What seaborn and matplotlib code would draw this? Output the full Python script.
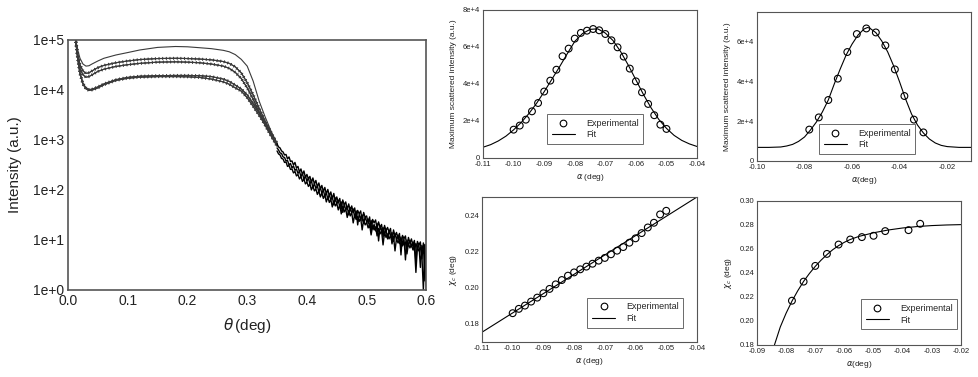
import numpy as np
import matplotlib
matplotlib.use("Agg")
from matplotlib import pyplot as plt
from matplotlib import patheffects
from matplotlib.lines import Line2D
from matplotlib.ticker import FuncFormatter
import seaborn as sns

# ---------------- left panel: reflectivity curves ----------------
theta = [0.010, 0.013, 0.016, 0.020, 0.025, 0.030, 0.035, 0.040, 0.050, 0.060,
         0.080, 0.100, 0.120, 0.150, 0.180, 0.200, 0.220, 0.240, 0.260, 0.270,
         0.280, 0.290, 0.300, 0.310, 0.320, 0.330, 0.340, 0.350]
curve_a = [1.6e5, 1.0e5, 6.5e4, 4.3e4, 3.3e4, 3.0e4, 3.05e4, 3.3e4, 3.8e4, 4.3e4,
           5.0e4, 5.6e4, 6.3e4, 7.1e4, 7.4e4, 7.3e4, 7.0e4, 6.7e4, 6.2e4, 5.8e4,
           5.1e4, 4.1e4, 3.0e4, 1.5e4, 6.0e3, 2.9e3, 1.5e3, 8.5e2]
curve_b = [1.6e5, 1.0e5, 5.5e4, 3.2e4, 2.4e4, 2.15e4, 2.2e4, 2.4e4, 2.8e4, 3.1e4,
           3.5e4, 3.8e4, 4.05e4, 4.25e4, 4.3e4, 4.25e4, 4.15e4, 4.0e4, 3.7e4, 3.4e4,
           2.9e4, 2.2e4, 1.4e4, 8.0e3, 4.3e3, 2.4e3, 1.4e3, 8.5e2]
curve_c = [1.6e5, 9.5e4, 5.0e4, 2.7e4, 2.0e4, 1.8e4, 1.85e4, 2.0e4, 2.35e4, 2.6e4,
           2.95e4, 3.2e4, 3.4e4, 3.6e4, 3.65e4, 3.6e4, 3.5e4, 3.3e4, 3.0e4, 2.7e4,
           2.25e4, 1.7e4, 1.1e4, 6.5e3, 3.6e3, 2.0e3, 1.2e3, 7.5e2]
curve_d = [1.6e5, 9.0e4, 4.5e4, 2.2e4, 1.35e4, 1.1e4, 1.02e4, 1.03e4, 1.15e4, 1.32e4,
           1.6e4, 1.78e4, 1.88e4, 1.93e4, 1.95e4, 1.95e4, 1.93e4, 1.85e4, 1.65e4, 1.48e4,
           1.25e4, 1.05e4, 8.0e3, 5.3e3, 3.5e3, 2.2e3, 1.35e3, 8.5e2]
curve_e = [1.6e5, 9.0e4, 4.4e4, 2.1e4, 1.3e4, 1.05e4, 0.98e4, 1.0e4, 1.1e4, 1.27e4,
           1.55e4, 1.72e4, 1.8e4, 1.85e4, 1.85e4, 1.83e4, 1.78e4, 1.65e4, 1.45e4, 1.3e4,
           1.1e4, 9.5e3, 7.0e3, 4.7e3, 3.1e3, 2.0e3, 1.25e3, 7.8e2]

# noisy high-angle tails (log10 of intensity), sampled every 0.0025 deg from 0.35
tail_theta = np.round(np.arange(0.350, 0.6001, 0.0025), 4)
tail_1 = [2.92, 2.86, 2.84, 2.78, 2.76, 2.70, 2.71, 2.62, 2.66, 2.57,
          2.58, 2.50, 2.55, 2.44, 2.47, 2.36, 2.42, 2.31, 2.38, 2.25,
          2.31, 2.22, 2.27, 2.15, 2.24, 2.12, 2.19, 2.06, 2.14, 2.02,
          2.09, 1.97, 2.05, 1.92, 2.01, 1.88, 1.96, 1.82, 1.93, 1.78,
          1.86, 1.75, 1.83, 1.62, 1.80, 1.70, 1.76, 1.61, 1.72, 1.58,
          1.68, 1.55, 1.64, 1.42, 1.59, 1.52, 1.58, 1.38, 1.55, 1.45,
          1.48, 1.33, 1.46, 1.14, 1.41, 1.34, 1.40, 1.22, 1.36, 1.25,
          1.31, 1.06, 1.29, 1.18, 1.25, 1.16, 1.23, 0.92, 1.20, 1.08,
          1.15, 1.02, 1.13, 0.70, 1.09, 1.03, 1.08, 0.82, 1.05, 0.94,
          1.02, 0.88, 0.99, 0.55, 0.97, 0.90, 0.96, 0.62, 0.94, 0.18,
          0.90]
tail_2 = [2.84, 2.80, 2.74, 2.73, 2.66, 2.65, 2.58, 2.59, 2.50, 2.53,
          2.44, 2.48, 2.39, 2.42, 2.33, 2.37, 2.27, 2.33, 2.21, 2.28,
          2.17, 2.24, 2.12, 2.19, 2.04, 2.13, 2.03, 2.08, 1.96, 2.05,
          1.93, 2.00, 1.87, 1.95, 1.81, 1.91, 1.80, 1.87, 1.70, 1.84,
          1.72, 1.79, 1.66, 1.76, 1.55, 1.72, 1.60, 1.67, 1.50, 1.65,
          1.54, 1.62, 1.45, 1.58, 1.30, 1.51, 1.43, 1.50, 1.33, 1.46,
          1.36, 1.42, 1.25, 1.39, 1.22, 1.31, 1.18, 1.33, 0.98, 1.27,
          1.19, 1.25, 1.10, 1.22, 1.02, 1.18, 1.08, 1.15, 0.97, 1.12,
          1.01, 1.10, 0.93, 1.06, 0.88, 1.03, 0.60, 1.00, 0.90, 0.98,
          0.86, 0.96, 0.78, 0.93, 0.84, 0.92, 0.45, 0.89, 0.80, 0.91,
          0.02]
tail_3 = [2.78, 2.72, 2.70, 2.63, 2.62, 2.55, 2.56, 2.47, 2.49, 2.41,
          2.42, 2.34, 2.37, 2.28, 2.31, 2.22, 2.27, 2.17, 2.22, 2.12,
          2.16, 2.07, 2.12, 2.00, 2.08, 1.98, 2.02, 1.91, 1.98, 1.86,
          1.94, 1.83, 1.90, 1.76, 1.86, 1.75, 1.81, 1.66, 1.78, 1.68,
          1.73, 1.60, 1.70, 1.52, 1.67, 1.56, 1.62, 1.45, 1.59, 1.48,
          1.55, 1.34, 1.50, 1.41, 1.47, 1.37, 1.44, 1.20, 1.40, 1.30,
          1.35, 1.24, 1.31, 1.10, 1.28, 1.20, 1.26, 1.08, 1.23, 1.12,
          1.18, 0.90, 1.15, 1.05, 1.12, 1.02, 1.09, 0.95, 1.07, 0.78,
          1.03, 0.94, 1.00, 0.86, 0.97, 0.90, 0.96, 0.72, 0.93, 0.84,
          0.91, 0.80, 0.88, 0.35, 0.86, 0.78, 0.85, 0.70, 0.00, 0.82,
          0.75]

# ---------------- top middle: peak intensity vs alpha ----------------
alpha_1 = [-0.100, -0.098, -0.096, -0.094, -0.092, -0.090, -0.088, -0.086, -0.084,
           -0.082, -0.080, -0.078, -0.076, -0.074, -0.072, -0.070, -0.068, -0.066,
           -0.064, -0.062, -0.060, -0.058, -0.056, -0.054, -0.052, -0.050]
peak_1 = [1.53e4, 1.75e4, 2.07e4, 2.52e4, 2.97e4, 3.59e4, 4.18e4, 4.77e4, 5.50e4,
          5.91e4, 6.45e4, 6.76e4, 6.88e4, 6.97e4, 6.90e4, 6.70e4, 6.36e4, 5.98e4,
          5.48e4, 4.83e4, 4.14e4, 3.55e4, 2.92e4, 2.31e4, 1.80e4, 1.57e4]
fit_1_x = [-0.1100, -0.1075, -0.1050, -0.1025, -0.1000, -0.0975, -0.0950, -0.0925,
           -0.0900, -0.0875, -0.0850, -0.0825, -0.0800, -0.0775, -0.0750, -0.0725,
           -0.0700, -0.0675, -0.0650, -0.0625, -0.0600, -0.0575, -0.0550, -0.0525,
           -0.0500, -0.0475, -0.0450, -0.0425, -0.0400]
fit_1_y = [0.58e4, 0.72e4, 0.92e4, 1.18e4, 1.52e4, 1.92e4, 2.40e4, 2.95e4,
           3.58e4, 4.25e4, 4.92e4, 5.62e4, 6.30e4, 6.72e4, 6.95e4, 6.98e4,
           6.75e4, 6.35e4, 5.75e4, 5.02e4, 4.22e4, 3.42e4, 2.70e4, 2.08e4,
           1.60e4, 1.22e4, 0.95e4, 0.76e4, 0.62e4]

# ---------------- top right: peak intensity vs alpha ----------------
alpha_2 = [-0.078, -0.074, -0.070, -0.066, -0.062, -0.058, -0.054, -0.050,
           -0.046, -0.042, -0.038, -0.034, -0.030]
peak_2 = [1.57e4, 2.18e4, 3.05e4, 4.12e4, 5.45e4, 6.35e4, 6.63e4, 6.43e4,
          5.78e4, 4.58e4, 3.25e4, 2.07e4, 1.43e4]
fit_2_x = [-0.1000, -0.0950, -0.0900, -0.0875, -0.0850, -0.0825, -0.0800, -0.0775,
           -0.0750, -0.0725, -0.0700, -0.0675, -0.0650, -0.0625, -0.0600, -0.0575,
           -0.0550, -0.0535, -0.0525, -0.0500, -0.0475, -0.0450, -0.0425, -0.0400,
           -0.0375, -0.0350, -0.0325, -0.0300, -0.0275, -0.0250, -0.0225, -0.0200,
           -0.0150, -0.0100]
fit_2_y = [0.68e4, 0.68e4, 0.70e4, 0.75e4, 0.83e4, 0.98e4, 1.20e4, 1.55e4,
           1.95e4, 2.45e4, 3.05e4, 3.85e4, 4.60e4, 5.30e4, 5.85e4, 6.30e4,
           6.60e4, 6.68e4, 6.64e4, 6.42e4, 6.00e4, 5.45e4, 4.75e4, 3.95e4,
           3.10e4, 2.35e4, 1.80e4, 1.40e4, 1.10e4, 0.90e4, 0.78e4, 0.72e4,
           0.68e4, 0.68e4]

# ---------------- bottom middle: chi_c vs alpha ----------------
chi_1 = [0.1859, 0.1883, 0.1901, 0.1923, 0.1945, 0.1969, 0.1993, 0.2018, 0.2042,
         0.2066, 0.2084, 0.2101, 0.2116, 0.2132, 0.2149, 0.2164, 0.2184, 0.2204,
         0.2224, 0.2248, 0.2272, 0.2301, 0.2332, 0.2358, 0.2404, 0.2424]
fit_3_x = [-0.110, -0.075, -0.040]
fit_3_y = [0.1754, 0.2127, 0.2500]

# ---------------- bottom right: chi_c vs alpha ----------------
alpha_4 = [-0.078, -0.074, -0.070, -0.066, -0.062, -0.058, -0.054, -0.050,
           -0.046, -0.038, -0.034]
chi_2 = [0.2169, 0.2328, 0.2459, 0.2559, 0.2637, 0.2679, 0.2699, 0.2710,
         0.2749, 0.2757, 0.2810]
fit_4_x = [-0.0840, -0.0820, -0.0800, -0.0780, -0.0760, -0.0740, -0.0720, -0.0700,
           -0.0680, -0.0660, -0.0640, -0.0620, -0.0600, -0.0580, -0.0550, -0.0500,
           -0.0450, -0.0400, -0.0350, -0.0300, -0.0250, -0.0200]
fit_4_y = [0.1800, 0.1950, 0.2065, 0.2165, 0.2252, 0.2330, 0.2396, 0.2455,
           0.2507, 0.2553, 0.2594, 0.2628, 0.2656, 0.2679, 0.2705, 0.2735,
           0.2758, 0.2775, 0.2787, 0.2795, 0.2800, 0.2803]

sns.set_style("white")
plt.rcParams["font.family"] = ["Liberation Sans", "DejaVu Sans"]
plt.rcParams["mathtext.fontset"] = "dejavusans"

fig = plt.figure(figsize=(9.79, 3.77), dpi=100)

TXT = "#222222"
SPINE = "#555555"


def style_axes(ax, lw, size, pad):
    for s in ax.spines.values():
        s.set_color(SPINE)
        s.set_linewidth(lw)
    ax.tick_params(direction="in", length=3, width=lw * 0.8, colors=SPINE,
                   labelcolor=TXT, labelsize=size, pad=pad)


def add_legend(ax, anchor):
    handles = [Line2D([], [], marker="o", ls="none", mfc="none", mec="k", mew=0.8, ms=4.8),
               Line2D([], [], color="k", lw=0.8)]
    leg = ax.legend(handles, ["Experimental", "Fit"], loc="lower left", bbox_to_anchor=anchor,
                    fontsize=6.5, frameon=True, fancybox=False, edgecolor="#444444",
                    handlelength=2.6, handletextpad=1.2, borderpad=0.5, labelspacing=0.3,
                    borderaxespad=0)
    leg.get_frame().set_linewidth(0.7)


# ---- left: reflectivity ----
ax1 = fig.add_axes([0.0695, 0.231, 0.366, 0.663])
for i, curve in enumerate([curve_a, curve_b, curve_c, curve_d, curve_e]):
    effects = []
    if i > 0:
        effects = [patheffects.withTickedStroke(spacing=2.6, length=0.3, angle=90),
                   patheffects.withTickedStroke(spacing=2.6, length=0.3, angle=-90)]
    sns.lineplot(x=theta, y=curve, ax=ax1, color="#3a3a3a", lw=0.8, sort=False,
                 path_effects=effects)
for tail in [tail_1, tail_2, tail_3]:
    sns.lineplot(x=tail_theta, y=10 ** np.array(tail), ax=ax1, color="black", lw=1.0,
                 sort=False)
ax1.set_yscale("log")
ax1.set_xlim(0, 0.6)
ax1.set_ylim(1, 1e5)
ax1.set_xticks([0.0, 0.1, 0.2, 0.3, 0.4, 0.5, 0.6])
ax1.set_yticks([1, 10, 100, 1e3, 1e4, 1e5])
ax1.minorticks_off()
ax1.yaxis.set_major_formatter(FuncFormatter(lambda v, p: f"1e+{int(round(np.log10(v)))}"))
ax1.xaxis.set_major_formatter(FuncFormatter(lambda v, p: f"{v:.1f}"))
style_axes(ax1, 1.2, 10, 3)
ax1.tick_params(length=5)
ax1.set_xlabel(r"$\theta\,$(deg)", fontsize=11, color=TXT, labelpad=6)
ax1.set_ylabel("Intensity (a.u.)", fontsize=11, color=TXT, labelpad=8)

# ---- top middle ----
ax2 = fig.add_axes([0.4934, 0.581, 0.2186, 0.3926])
sns.lineplot(x=fit_1_x, y=fit_1_y, ax=ax2, color="black", lw=0.8, sort=False)
sns.scatterplot(x=alpha_1, y=peak_1, ax=ax2, marker="o", s=24, facecolor="none",
                edgecolor="black", linewidth=0.8, zorder=3)
ax2.set_xlim(-0.11, -0.04)
ax2.set_ylim(0, 8e4)
ax2.set_xticks([-0.11, -0.10, -0.09, -0.08, -0.07, -0.06, -0.05, -0.04])
ax2.set_yticks([0, 2e4, 4e4, 6e4, 8e4])
ax2.set_yticklabels(["0", "2e+4", "4e+4", "6e+4", "8e+4"])
ax2.xaxis.set_major_formatter(FuncFormatter(lambda v, p: f"{v:.2f}"))
style_axes(ax2, 0.8, 5.5, 2)
ax2.set_xlabel(r"$\alpha$ (deg)", fontsize=6, color=TXT, labelpad=3)
ax2.set_ylabel("Maximum scattered intensity (a.u.)", fontsize=6, color=TXT, labelpad=4)
add_legend(ax2, (0.30, 0.095))

# ---- top right ----
ax3 = fig.add_axes([0.7732, 0.573, 0.2186, 0.395])
sns.lineplot(x=fit_2_x, y=fit_2_y, ax=ax3, color="black", lw=0.8, sort=False)
sns.scatterplot(x=alpha_2, y=peak_2, ax=ax3, marker="o", s=24, facecolor="none",
                edgecolor="black", linewidth=0.8, zorder=3)
ax3.set_xlim(-0.10, -0.01)
ax3.set_ylim(0, 7.45e4)
ax3.set_xticks([-0.10, -0.08, -0.06, -0.04, -0.02])
ax3.set_yticks([0, 2e4, 4e4, 6e4])
ax3.set_yticklabels(["0", "2e+4", "4e+4", "6e+4"])
ax3.xaxis.set_major_formatter(FuncFormatter(lambda v, p: f"{v:.2f}"))
style_axes(ax3, 0.8, 5.5, 2)
ax3.set_xlabel(r"$\alpha$(deg)", fontsize=6, color=TXT, labelpad=3)
ax3.set_ylabel("Maximum scattered intensity (a.u.)", fontsize=6, color=TXT, labelpad=4)
add_legend(ax3, (0.29, 0.047))

# ---- bottom middle ----
ax4 = fig.add_axes([0.4923, 0.0928, 0.2196, 0.3846])
sns.lineplot(x=fit_3_x, y=fit_3_y, ax=ax4, color="black", lw=0.8, sort=False)
sns.scatterplot(x=alpha_1, y=chi_1, ax=ax4, marker="o", s=24, facecolor="none",
                edgecolor="black", linewidth=0.8, zorder=3)
ax4.set_xlim(-0.11, -0.04)
ax4.set_ylim(0.17, 0.25)
ax4.set_xticks([-0.11, -0.10, -0.09, -0.08, -0.07, -0.06, -0.05, -0.04])
ax4.set_yticks([0.18, 0.20, 0.22, 0.24])
ax4.xaxis.set_major_formatter(FuncFormatter(lambda v, p: f"{v:.2f}"))
ax4.yaxis.set_major_formatter(FuncFormatter(lambda v, p: f"{v:.2f}"))
style_axes(ax4, 0.8, 5.5, 2)
ax4.set_xlabel(r"$\alpha$ (deg)", fontsize=6, color=TXT, labelpad=3)
ax4.set_ylabel(r"$\chi_c$ (deg)", fontsize=6, color=TXT, labelpad=4)
add_legend(ax4, (0.49, 0.10))

# ---- bottom right ----
ax5 = fig.add_axes([0.7732, 0.0849, 0.2084, 0.382])
sns.lineplot(x=fit_4_x, y=fit_4_y, ax=ax5, color="black", lw=0.8, sort=False)
sns.scatterplot(x=alpha_4, y=chi_2, ax=ax5, marker="o", s=24, facecolor="none",
                edgecolor="black", linewidth=0.8, zorder=3)
ax5.set_xlim(-0.09, -0.02)
ax5.set_ylim(0.18, 0.30)
ax5.set_xticks([-0.09, -0.08, -0.07, -0.06, -0.05, -0.04, -0.03, -0.02])
ax5.set_yticks([0.18, 0.20, 0.22, 0.24, 0.26, 0.28, 0.30])
ax5.xaxis.set_major_formatter(FuncFormatter(lambda v, p: f"{v:.2f}"))
ax5.yaxis.set_major_formatter(FuncFormatter(lambda v, p: f"{v:.2f}"))
style_axes(ax5, 0.8, 5.5, 2)
ax5.set_xlabel(r"$\alpha$(deg)", fontsize=6, color=TXT, labelpad=3)
ax5.set_ylabel(r"$\chi_c$ (deg)", fontsize=6, color=TXT, labelpad=4)
add_legend(ax5, (0.51, 0.11))

fig.savefig("out.png", dpi=100)
